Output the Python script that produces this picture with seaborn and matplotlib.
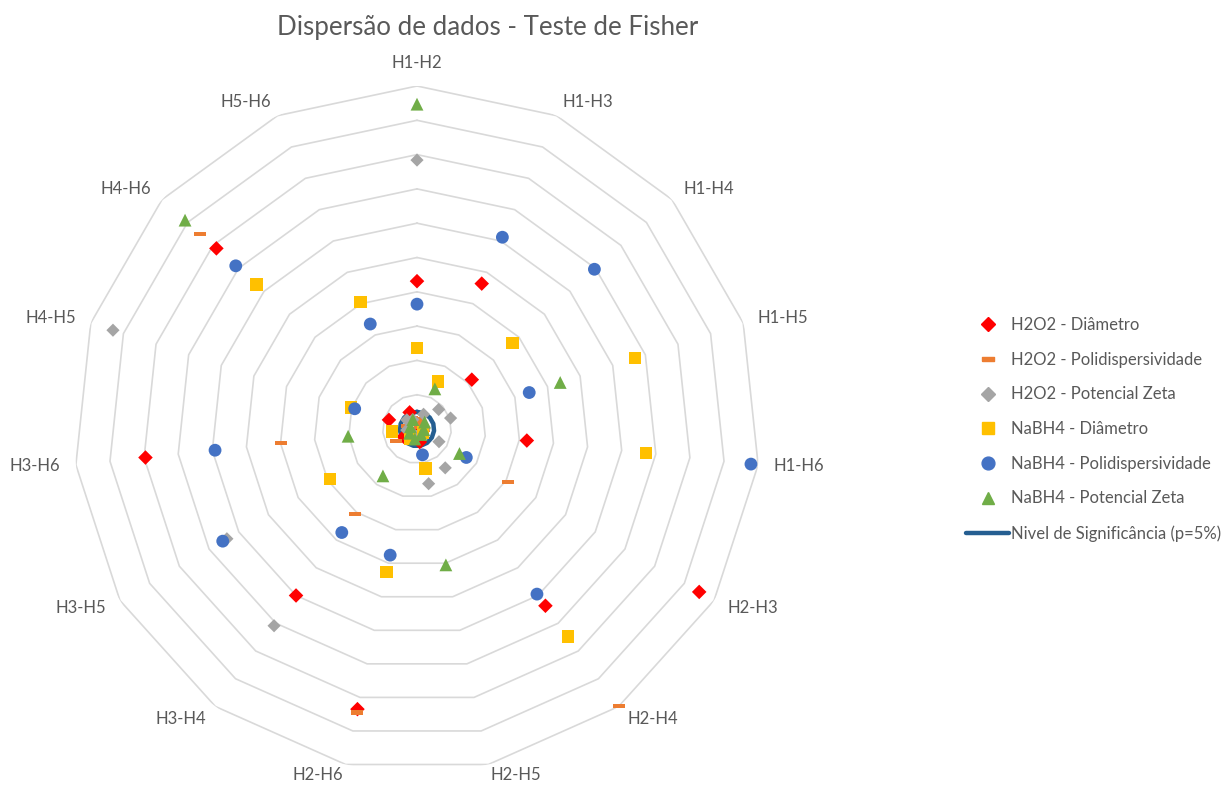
import numpy as np
import pandas as pd
import matplotlib
matplotlib.use("Agg")
import matplotlib.pyplot as plt
from matplotlib.lines import Line2D
import seaborn as sns

pares = ['H1-H2', 'H1-H3', 'H1-H4', 'H1-H5', 'H1-H6', 'H2-H3', 'H2-H4', 'H2-H5',
         'H2-H6', 'H3-H4', 'H3-H5', 'H3-H6', 'H4-H5', 'H4-H6', 'H5-H6']

h2o2_diam = [0.431, 0.464, 0.215, 0.010, 0.322, 0.950, 0.637, 0.039, 0.835, 0.600, 0.045, 0.796, 0.086, 0.787, 0.053]
h2o2_pdi = [0.030, 0.020, 0.010, 0.015, 0.020, 0.307, 1.000, 0.010, 0.845, 0.308, 0.071, 0.400, 0.030, 0.851, 0.035]
h2o2_zeta = [0.784, 0.047, 0.085, 0.103, 0.020, 0.074, 0.140, 0.163, 0.020, 0.709, 0.640, 0.030, 0.932, 0.040, 0.030]
nabh4_diam = [0.236, 0.152, 0.375, 0.669, 0.671, 0.020, 0.748, 0.118, 0.426, 0.036, 0.293, 0.073, 0.202, 0.630, 0.406]
nabh4_pdi = [0.364, 0.612, 0.696, 0.344, 0.979, 0.166, 0.595, 0.077, 0.376, 0.373, 0.654, 0.592, 0.191, 0.711, 0.335]
nabh4_zeta = [0.947, 0.128, 0.030, 0.439, 0.020, 0.143, 0.020, 0.405, 0.030, 0.169, 0.025, 0.202, 0.020, 0.910, 0.030]
nivel = [0.05] * len(pares)

series = ['H2O2 - Diâmetro', 'H2O2 - Polidispersividade', 'H2O2 - Potencial Zeta',
          'NaBH4 - Diâmetro', 'NaBH4 - Polidispersividade', 'NaBH4 - Potencial Zeta']
valores = [h2o2_diam, h2o2_pdi, h2o2_zeta, nabh4_diam, nabh4_pdi, nabh4_zeta]

cores = ['#FF0000', '#ED7D31', '#A5A5A5', '#FFC000', '#4472C4', '#70AD47']
traco = [(-3, -1), (3, -1), (3, 1), (-3, 1), (-3, -1)]
marcadores = ['D', traco, 'D', 's', 'o', '^']
tamanhos = [55, 75, 45, 80, 85, 85]

theta = np.arange(len(pares)) * 2 * np.pi / len(pares)

df = pd.DataFrame({
    'serie': np.repeat(series, len(pares)),
    'theta': np.tile(theta, len(series)),
    'valor': np.concatenate(valores),
})

sns.set_style('white')
plt.rcParams['font.family'] = ['Lato', 'DejaVu Sans']

fig = plt.figure(figsize=(12.27, 7.85), dpi=100)
ax = fig.add_axes([74 / 1227, 13 / 785, 686 / 1227, 686 / 785], projection='polar')
ax.set_theta_zero_location('N')
ax.set_theta_direction(-1)
ax.set_ylim(0, 1)
ax.grid(False)
ax.set_xticks([])
ax.set_yticks([])
ax.spines['polar'].set_visible(False)
ax.patch.set_alpha(0)

# polygon rings
th_closed = np.append(theta, theta[0])
for r in np.arange(0.1, 1.01, 0.1):
    ax.plot(th_closed, [r] * len(th_closed), color='#D9D9D9', lw=1.2, zorder=1)

# significance line
df_niv = pd.DataFrame({'theta': th_closed, 'valor': nivel + [nivel[0]]})
sns.lineplot(data=df_niv, x='theta', y='valor', sort=False, estimator=None,
             color='#255E91', lw=3.2, ax=ax, zorder=2)

sns.scatterplot(data=df, x='theta', y='valor', hue='serie', style='serie', size='serie',
                palette=dict(zip(series, cores)), markers=dict(zip(series, marcadores)),
                sizes=dict(zip(series, tamanhos)), linewidth=0, legend=False,
                ax=ax, zorder=3, clip_on=False)
ax.set_xlabel('')
ax.set_ylabel('')

# category labels
for t, lab in zip(theta, pares):
    s, c = np.sin(t), np.cos(t)
    ha = 'left' if s > 0.15 else ('right' if s < -0.15 else 'center')
    va = 'bottom' if ha == 'center' else 'center'
    r_lab = 1.03 if c < -0.9 else 1.045
    ax.text(t, r_lab, lab, ha=ha, va=va, fontsize=12, color='#595959')

fig.text(488 / 1227, 1 - 27 / 785, 'Dispersão de dados - Teste de Fisher',
         ha='center', va='center', fontsize=18.6, color='#595959')

handles = [Line2D([], [], ls='none', marker=m, color=c, markersize=np.sqrt(s))
           for m, c, s in zip(marcadores, cores, tamanhos)]
handles.append(Line2D([], [], color='#255E91', lw=3.2))
labels = series + ['Nivel de Significância (p=5%)']
leg = fig.legend(handles, labels, loc='upper left', bbox_to_anchor=(966 / 1227, 1 - 317 / 785),
                 frameon=False, fontsize=12, labelspacing=1.12, handlelength=2.6,
                 handletextpad=0.1, borderpad=0, borderaxespad=0)
for t in leg.get_texts():
    t.set_color('#595959')

fig.savefig('out.png', dpi=100)
